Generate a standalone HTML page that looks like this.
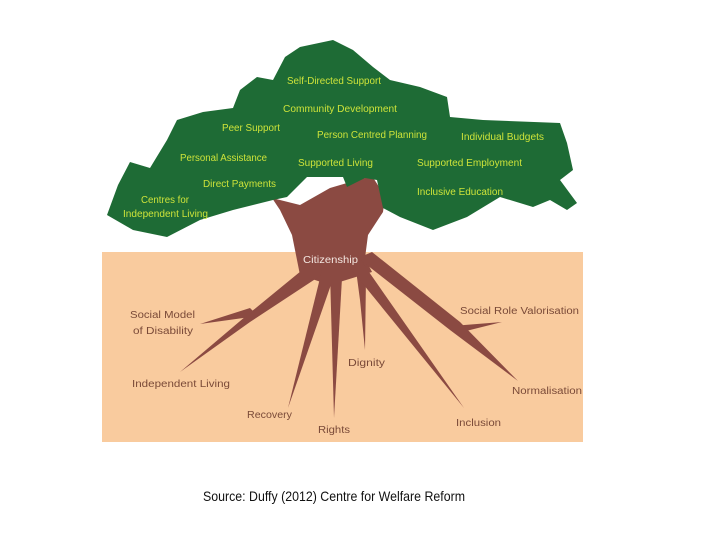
<!DOCTYPE html>
<html><head><meta charset="utf-8"><style>
html,body{margin:0;padding:0;background:#fff;}
svg{display:block;}
.c{font-family:"Liberation Sans",sans-serif;font-size:10px;fill:#cde33a;}
.r{font-family:"Liberation Sans",sans-serif;font-size:10px;fill:#7a4a38;}
</style></head><body>
<svg width="720" height="540" viewBox="0 0 720 540" xmlns="http://www.w3.org/2000/svg">
<rect x="0" y="0" width="720" height="540" fill="#fff"/>
<rect x="102" y="252" width="481" height="190" fill="#f9cb9e"/>
<!-- trunk -->
<path d="M272,198 L300,205 L330,188 L347,183 L372,176 L385,196 L383,212 L368,235 L365,258 L372,272 L330,285 L300,275 L296,255 L292,235 L280,210 Z" fill="#8b4a42"/>
<!-- roots -->
<g fill="#8b4a42">
<polygon points="312,262 326,272 250,322 180,372 246,316"/>
<polygon points="250,308 258,316 200,324"/>
<polygon points="322,270 334,276 288,408"/>
<polygon points="330,272 342,278 334,418"/>
<polygon points="356,270 366,276 365,350 360,300"/>
<polygon points="350,268 362,262 464,408"/>
<polygon points="358,258 372,252 460,322 518,381 450,330"/>
<polygon points="452,326 462,332 502,322"/>
</g>
<!-- canopy -->
<path d="M107,215 L118,185 L130,162 L150,168 L167,140 L177,120 L203,112 L233,108 L240,90 L257,77 L273,80 L285,57 L300,47 L333,40 L353,50 L373,67 L390,80 L420,87 L447,97 L450,117 L483,120 L560,123 L567,143 L573,170 L560,180 L577,203 L567,210 L550,200 L533,207 L500,197 L467,217 L433,230 L400,217 L383,208 L377,180 L365,178 L347,187 L343,177 L307,177 L287,197 L273,200 L233,210 L200,220 L167,237 L133,230 Z" fill="#1e6b35"/>
<g class="c">
<text x="287" y="84" textLength="94" lengthAdjust="spacingAndGlyphs">Self-Directed Support</text>
<text x="283" y="112" textLength="114" lengthAdjust="spacingAndGlyphs">Community Development</text>
<text x="222" y="131" textLength="58" lengthAdjust="spacingAndGlyphs">Peer Support</text>
<text x="317" y="138" textLength="110" lengthAdjust="spacingAndGlyphs">Person Centred Planning</text>
<text x="461" y="140" textLength="83" lengthAdjust="spacingAndGlyphs">Individual Budgets</text>
<text x="180" y="161" textLength="87" lengthAdjust="spacingAndGlyphs">Personal Assistance</text>
<text x="298" y="166" textLength="75" lengthAdjust="spacingAndGlyphs">Supported Living</text>
<text x="417" y="166" textLength="105" lengthAdjust="spacingAndGlyphs">Supported Employment</text>
<text x="203" y="187" textLength="73" lengthAdjust="spacingAndGlyphs">Direct Payments</text>
<text x="417" y="195" textLength="86" lengthAdjust="spacingAndGlyphs">Inclusive Education</text>
<text x="141" y="203" textLength="48" lengthAdjust="spacingAndGlyphs">Centres for</text>
<text x="123" y="217" textLength="85" lengthAdjust="spacingAndGlyphs">Independent Living</text>
</g>
<text x="303" y="263" textLength="55" lengthAdjust="spacingAndGlyphs" font-family="Liberation Sans, sans-serif" font-size="10" fill="#f3e6e0">Citizenship</text>
<g class="r">
<text x="130" y="318" textLength="65" lengthAdjust="spacingAndGlyphs">Social Model</text>
<text x="133" y="334" textLength="60" lengthAdjust="spacingAndGlyphs">of Disability</text>
<text x="132" y="387" textLength="98" lengthAdjust="spacingAndGlyphs">Independent Living</text>
<text x="247" y="418" textLength="45" lengthAdjust="spacingAndGlyphs">Recovery</text>
<text x="318" y="433" textLength="32" lengthAdjust="spacingAndGlyphs">Rights</text>
<text x="348" y="366" textLength="37" lengthAdjust="spacingAndGlyphs">Dignity</text>
<text x="456" y="426" textLength="45" lengthAdjust="spacingAndGlyphs">Inclusion</text>
<text x="512" y="394" textLength="70" lengthAdjust="spacingAndGlyphs">Normalisation</text>
<text x="460" y="314" textLength="119" lengthAdjust="spacingAndGlyphs">Social Role Valorisation</text>
</g>
<text x="203" y="501" textLength="262" lengthAdjust="spacingAndGlyphs" font-family="Liberation Sans, sans-serif" font-size="14" fill="#111">Source: Duffy (2012) Centre for Welfare Reform</text>
</svg>
</body></html>
